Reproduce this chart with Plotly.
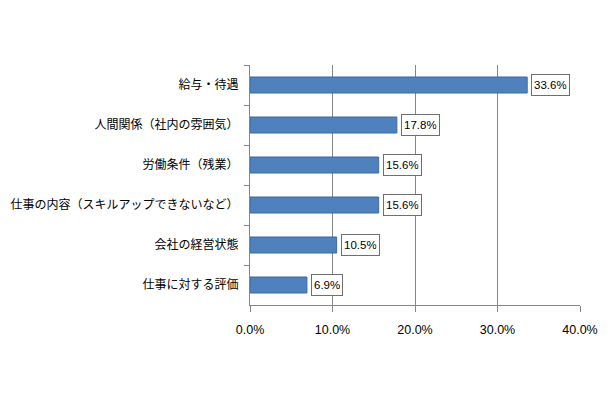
import plotly.graph_objects as go

categories = ["給与・待遇", "人間関係（社内の雰囲気）", "労働条件（残業）",
              "仕事の内容（スキルアップできないなど）", "会社の経営状態", "仕事に対する評価"]
values = [33.6, 17.8, 15.6, 15.6, 10.5, 6.9]
tick_vals = [0, 10, 20, 30, 40]
tick_text = ["0.0%", "10.0%", "20.0%", "30.0%", "40.0%"]

fig = go.Figure()
fig.add_trace(go.Bar(
    y=categories, x=values, orientation="h",
    marker=dict(color="#4F81BD", line=dict(color="#3A6AA3", width=1)),
    width=0.4, hoverinfo="skip",
))

for c, v in zip(categories, values):
    fig.add_annotation(
        x=v, y=c, xref="x", yref="y", text=f"{v:.1f}%",
        showarrow=False, xanchor="left", xshift=4, height=16,
        font=dict(family="Liberation Sans, Arial", size=11.5, color="#000"),
        bgcolor="white", bordercolor="#6F6F6F", borderwidth=1, borderpad=2,
    )

fig.update_layout(
    width=610, height=400,
    margin=dict(l=250, r=30, t=65, b=95),
    paper_bgcolor="white", plot_bgcolor="white",
    showlegend=False,
    bargap=0.6,
)
fig.update_xaxes(
    range=[0, 40], tickvals=tick_vals, ticktext=tick_text,
    showgrid=True, gridcolor="#868686", gridwidth=1,
    showline=True, linecolor="#868686", linewidth=1,
    ticks="outside", ticklen=6, tickcolor="#868686",
    tickfont=dict(family="Liberation Sans, Arial", size=12.5, color="#000"),
    ticklabelstandoff=7, automargin=False,
    zeroline=False,
)
fig.update_yaxes(
    autorange="reversed", categoryorder="array", categoryarray=categories,
    showline=True, linecolor="#868686", linewidth=1,
    ticks="outside", ticklen=5, tickcolor="#868686", tickson="boundaries",
    tickfont=dict(family="Noto Sans CJK JP", size=12, color="#000"),
    ticklabelstandoff=8, automargin=False,
)

fig.write_html("out.html")
